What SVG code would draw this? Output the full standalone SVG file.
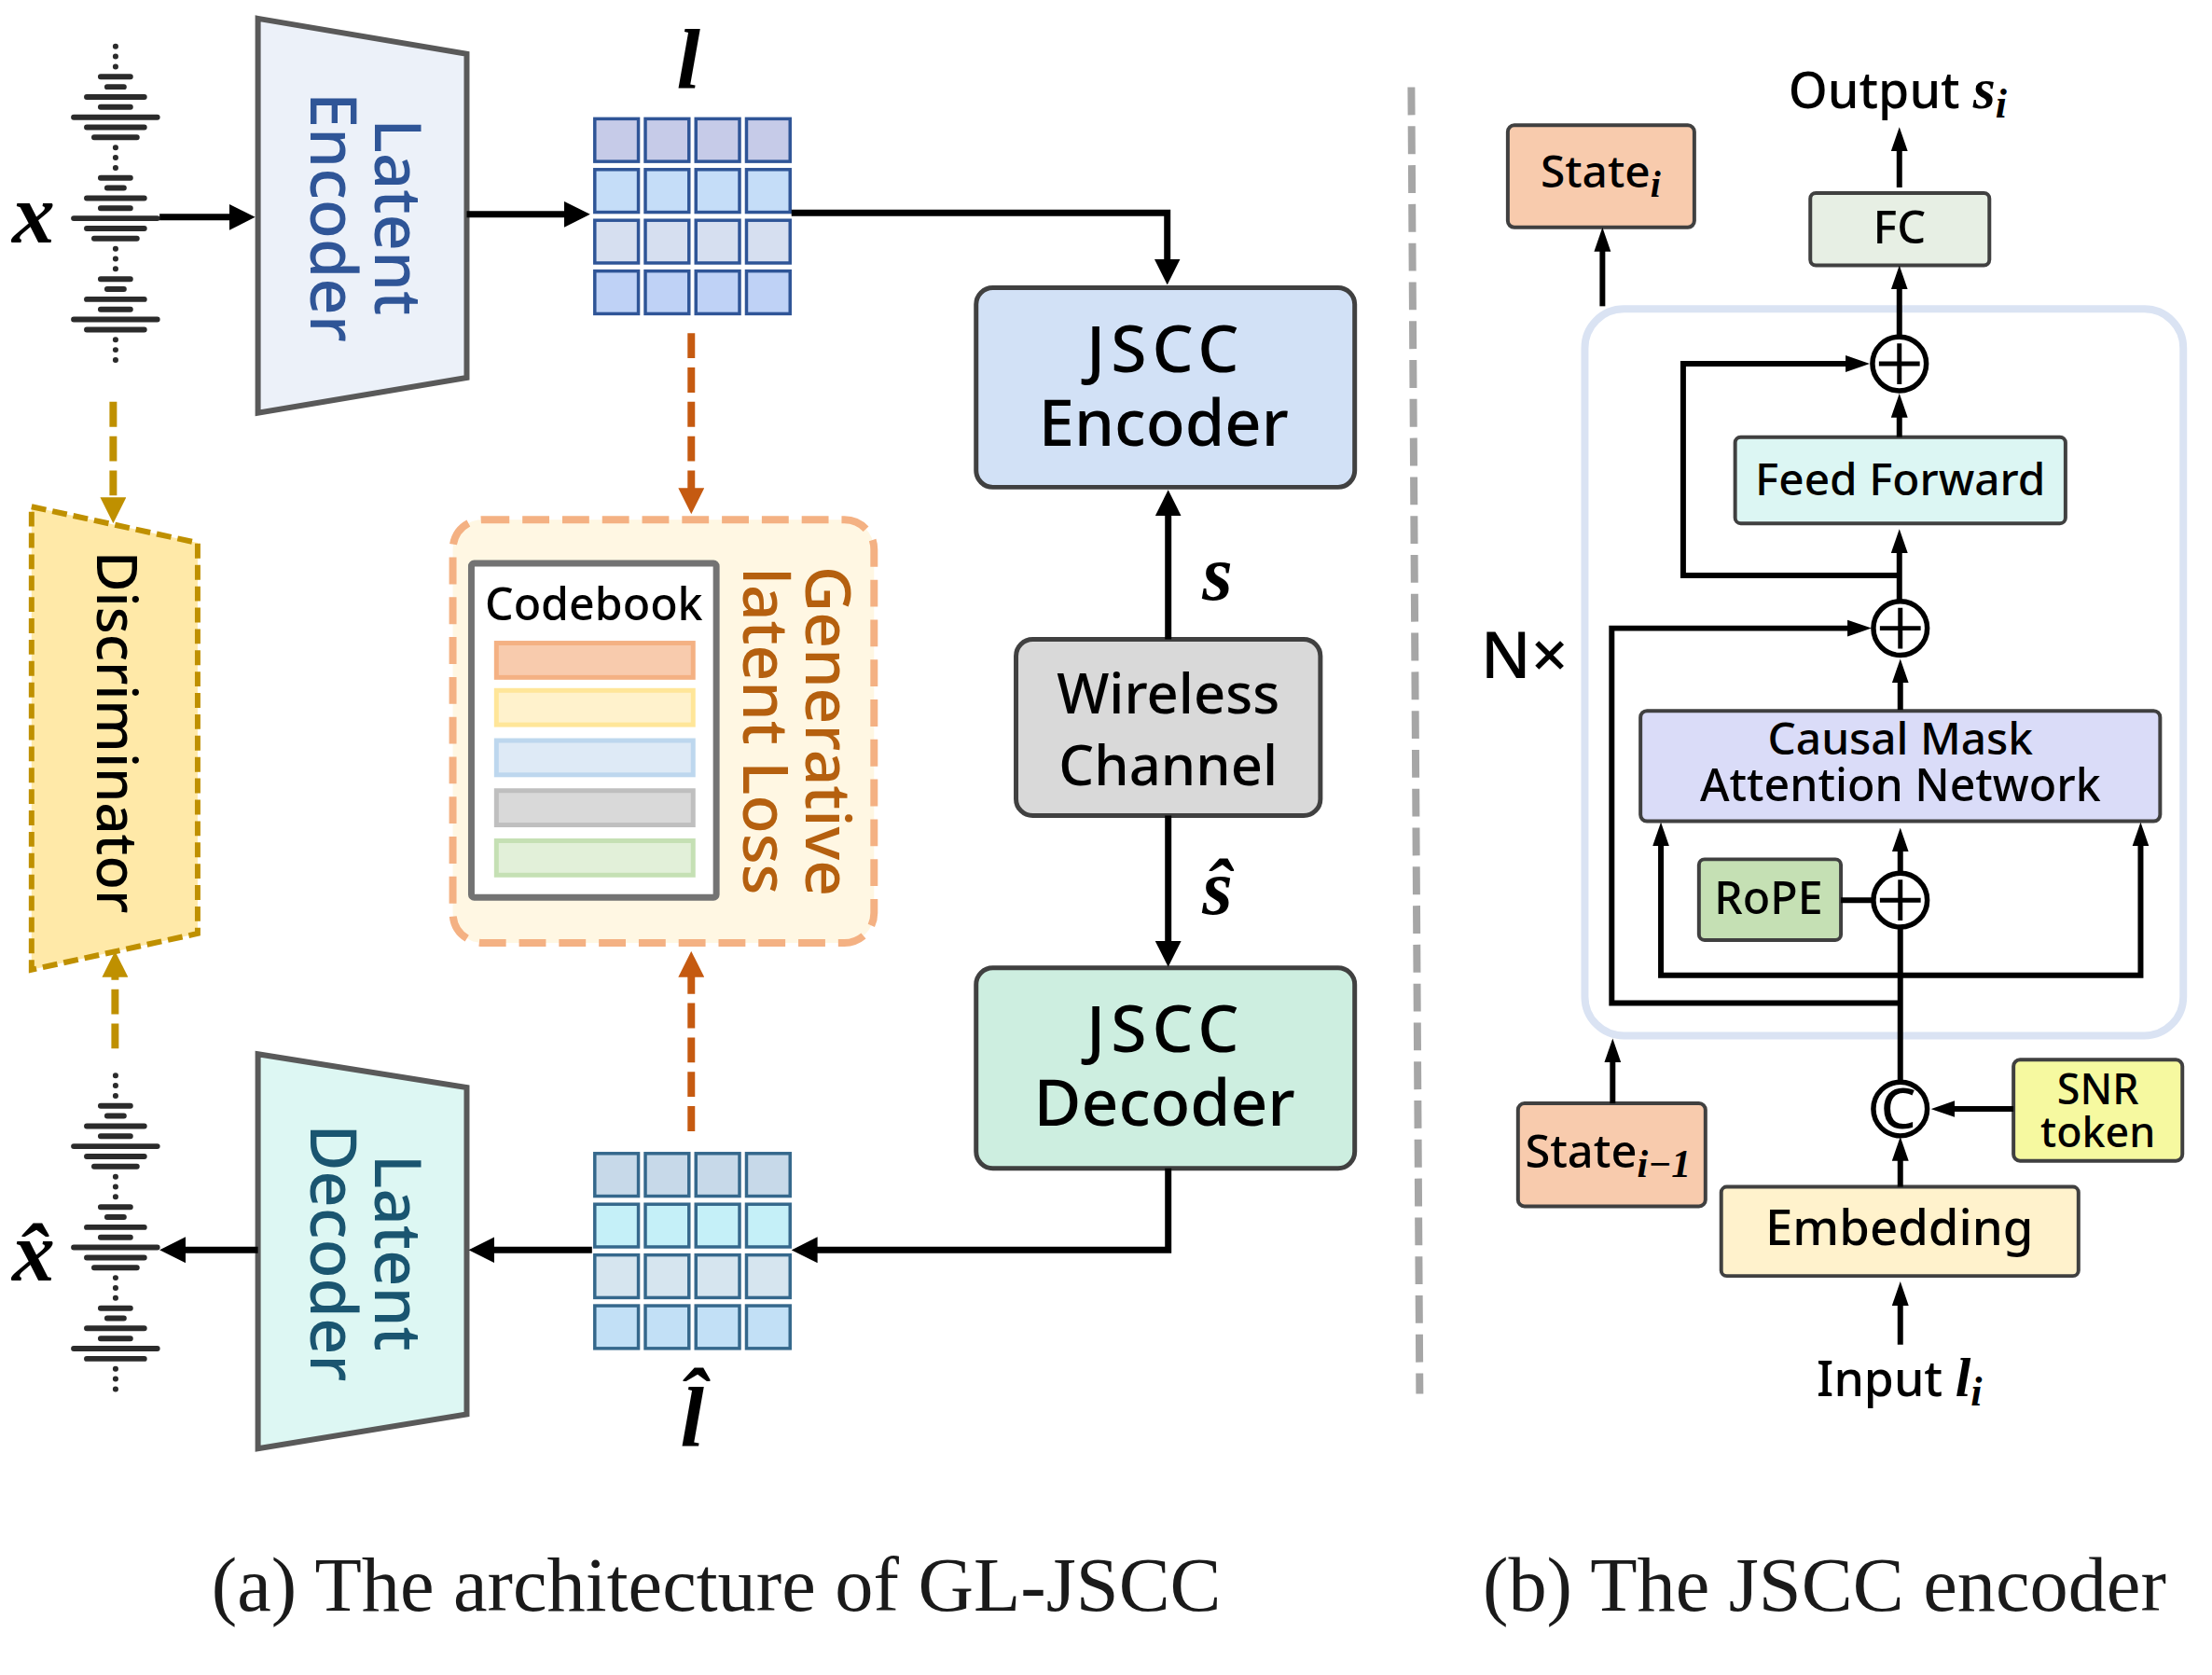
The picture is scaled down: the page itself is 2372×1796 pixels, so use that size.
<svg xmlns="http://www.w3.org/2000/svg" width="2372" height="1796" viewBox="0 0 2372 1796">
<style>
text{font-family:"Noto Sans","Open Sans","DejaVu Sans",sans-serif;fill:#000;text-anchor:middle;font-weight:500}
.math{font-family:"Liberation Serif","DejaVu Serif",serif;font-weight:bold;font-style:italic}
.cap{font-family:"Liberation Serif",serif;font-size:82.800px;text-anchor:start;fill:#1a1a1a;font-weight:400}
.box{stroke:#404040;stroke-width:4}
.big{stroke:#404040;stroke-width:5}
.trap{stroke:#595959;stroke-width:6}
.line{fill:none;stroke:#000;stroke-width:7}
.thin{fill:none;stroke:#000;stroke-width:6}
.bar{fill:none;stroke:#2b2b2b;stroke-width:6;stroke-linecap:round}
.op{fill:#fff;stroke:#000;stroke-width:5.500}
.opl{fill:none;stroke:#000;stroke-width:5}
.cb{stroke-width:5}
</style>
<defs>
<marker id="hb" markerUnits="userSpaceOnUse" markerWidth="28" markerHeight="28" refX="1" refY="14" orient="auto"><path d="M0 0L28 14L0 28z" fill="#000"/></marker>
<marker id="hs" markerUnits="userSpaceOnUse" markerWidth="26" markerHeight="20" refX="1" refY="10" orient="auto"><path d="M0 1L26 10L0 19z" fill="#000"/></marker>
<marker id="ho" markerUnits="userSpaceOnUse" markerWidth="28" markerHeight="28" refX="1" refY="14" orient="auto"><path d="M0 0L28 14L0 28z" fill="#C55A11"/></marker>
<marker id="hg" markerUnits="userSpaceOnUse" markerWidth="28" markerHeight="28" refX="1" refY="14" orient="auto"><path d="M0 0L28 14L0 28z" fill="#BF9000"/></marker>
<g id="wave">
<path class="bar" d="M-16 82.700H16M-9 93.600H9M-31 104.500H31M-16 115.400H16M-45 126.300H45M-31 137.200H31M-23 148.100H23M-16 191.700H16M-9 202.600H9M-31 213.500H31M-16 224.400H16M-45 235.300H45M-31 246.200H31M-23 257.100H23M-16 300.700H16M-9 311.600H9M-31 322.500H31M-16 333.400H16M-45 344.300H45M-31 355.200H31"/>
<path class="bar" d="M0 50h.1M0 60.900h.1M0 71.800h.1M0 159h.1M0 169.900h.1M0 180.800h.1M0 268h.1M0 278.900h.1M0 289.800h.1M0 366.100h.1M0 377h.1M0 387.900h.1"/>
</g>
<g id="row"><rect x="0" width="47" height="46"/><rect x="54.500" width="47" height="46"/><rect x="109" width="47" height="46"/><rect x="163.500" width="47" height="46"/></g>
<g id="plus"><circle class="op" r="29"/><path class="opl" d="M-22 0H22M0 -22V22"/></g>
</defs>
<rect width="2372" height="1796" fill="#fff"/>
<g transform="scale(0.995)">
<g id="wave-x"><use href="#wave" x="124.500" y="0"/><text class="math" x="36" y="261" font-size="92">x</text></g>
<g id="wave-xhat"><use href="#wave" x="124.500" y="1109"/><text class="math" x="36" y="1380" font-size="92">x&#770;</text></g>

<g id="latent-encoder"><polygon class="trap" points="278,20 503,58 503,407 278,445" fill="#ECF1F9"/>
<text transform="translate(404,234) rotate(90)" font-size="69" style="fill:#2F5597">Latent</text><text transform="translate(335,234) rotate(90)" font-size="69" style="fill:#2F5597">Encoder</text></g>

<g id="latent-decoder"><polygon class="trap" points="278,1136 503,1172 503,1524 278,1561" fill="#DDF7F3"/>
<text transform="translate(404,1350) rotate(90)" font-size="69" style="fill:#1A5570">Latent</text><text transform="translate(335,1350) rotate(90)" font-size="69" style="fill:#1A5570">Decoder</text></g>

<g id="latent-l" stroke="#2F5597" stroke-width="3.500"><use href="#row" x="641" y="128" fill="#C6CBE8"/><use href="#row" x="641" y="182.700" fill="#C5DDF8"/><use href="#row" x="641" y="237.400" fill="#D6DFF0"/><use href="#row" x="641" y="292.100" fill="#BFD2F6"/></g>
<text id="label-l" class="math" x="742" y="94" font-size="92">l</text>

<g id="latent-lhat" stroke="#35688C" stroke-width="3.500"><use href="#row" x="641" y="1243" fill="#C7D9E9"/><use href="#row" x="641" y="1297.700" fill="#C5F0F8"/><use href="#row" x="641" y="1352.400" fill="#D6E5EF"/><use href="#row" x="641" y="1407.100" fill="#C2E0F6"/></g>
<text id="label-lhat" class="math" x="746" y="1558" font-size="92">l&#770;</text>

<g id="discriminator"><polygon points="34,546 213,585 213,1006 34,1045" fill="#FFE9A8" stroke="#BF9000" stroke-width="6" stroke-dasharray="16 7"/>
<text transform="translate(105,789) rotate(90)" font-size="60">Discriminator</text></g>

<g id="generative-latent-loss"><rect x="488" y="560" width="454" height="456" rx="32" fill="#FFF7E3" stroke="#F4B183" stroke-width="8" stroke-dasharray="29 14"/>
<text transform="translate(868,788) rotate(90)" font-size="68" style="fill:#B5600F">Generative</text><text transform="translate(801,788) rotate(90)" font-size="68" style="fill:#B5600F">latent Loss</text></g>

<g id="codebook"><rect x="508" y="607" width="264" height="360" rx="3" fill="#fff" stroke="#737373" stroke-width="7"/>
<text x="640" y="668" font-size="48.500">Codebook</text>
<rect class="cb" x="535" y="693" width="212" height="37" fill="#F8CBAD" stroke="#F4B183"/>
<rect class="cb" x="535" y="744" width="212" height="37" fill="#FFF2CC" stroke="#FFE699"/>
<rect class="cb" x="535" y="798" width="212" height="37" fill="#DEEAF6" stroke="#BDD7EE"/>
<rect class="cb" x="535" y="852" width="212" height="37" fill="#D9D9D9" stroke="#BFBFBF"/>
<rect class="cb" x="535" y="906" width="212" height="37" fill="#E2F0D9" stroke="#C5E0B4"/></g>

<g id="jscc-encoder"><rect class="big" x="1052" y="310" width="408" height="215" rx="18" fill="#D2E1F6"/><text x="1256" y="401" font-size="70" letter-spacing="6">JSCC</text><text x="1254" y="480" font-size="69">Encoder</text></g>
<g id="wireless-channel"><rect class="big" x="1095" y="689" width="328" height="190" rx="18" fill="#D9D9D9"/><text x="1259" y="769" font-size="60">Wireless</text><text x="1259" y="846" font-size="60">Channel</text></g>
<g id="jscc-decoder"><rect class="big" x="1052" y="1043" width="408" height="216" rx="18" fill="#CDEEE0"/><text x="1256" y="1134" font-size="70" letter-spacing="6">JSCC</text><text x="1255" y="1213" font-size="70">Decoder</text></g>
<text id="label-s" class="math" x="1312" y="646" font-size="84">s</text>
<text id="label-shat" class="math" x="1312" y="985" font-size="84">&#349;</text>

<path id="divider" d="M1521 94L1530 1502" fill="none" stroke="#A6A6A6" stroke-width="8" stroke-dasharray="30 12"/>

<rect id="n-block" x="1708" y="333" width="645" height="783" rx="42" fill="none" stroke="#DAE3F3" stroke-width="8"/>
<text id="label-n" x="1643" y="731" font-size="70" font-weight="400">N×</text>

<g id="state-i"><rect class="box" x="1625" y="135" width="201" height="110" rx="7" fill="#F8CBAD"/><text x="1725" y="202" font-size="48">State<tspan class="math" font-size="40" dy="10">i</tspan></text></g>
<g id="fc"><rect class="box" x="1951" y="208" width="193" height="78" rx="6" fill="#E7EFE4"/><text x="2047" y="262" font-size="49">FC</text></g>
<text id="label-output" x="2045" y="117" font-size="54">Output <tspan class="math" font-size="62">s</tspan><tspan class="math" font-size="44" dy="10">i</tspan></text>
<g id="feed-forward"><rect class="box" x="1870" y="471" width="356" height="93" rx="6" fill="#DCF6F3"/><text x="2048" y="534" font-size="48">Feed Forward</text></g>
<g id="causal-mask"><rect class="box" x="1768" y="766" width="560" height="119" rx="7" fill="#DADCF8"/><text x="2048" y="813" font-size="48">Causal Mask</text><text x="2048" y="863" font-size="48.500">Attention Network</text></g>
<g id="rope"><rect class="box" x="1831" y="926" width="153" height="87" rx="6" fill="#C5E0B4"/><text x="1906" y="985" font-size="48.500">RoPE</text></g>
<g id="state-i-1"><rect class="box" x="1636" y="1189" width="202" height="111" rx="7" fill="#F8CBAD"/><text x="1733" y="1258" font-size="49">State<tspan class="math" font-size="42" dy="10">i−1</tspan></text></g>
<g id="snr-token"><rect class="box" x="2170" y="1142" width="182" height="109" rx="7" fill="#F6F9A0"/><text x="2261" y="1190" font-size="45">SNR</text><text x="2261" y="1236" font-size="45">token</text></g>
<g id="embedding"><rect class="box" x="1855" y="1279" width="385" height="96" rx="6" fill="#FFF2CC"/><text x="2047" y="1342" font-size="53">Embedding</text></g>
<text id="label-input" x="2047" y="1505" font-size="52">Input <tspan class="math" font-size="60">l</tspan><tspan class="math" font-size="44" dy="10">i</tspan></text>

<g id="connectors">
<path class="line" marker-end="url(#hb)" d="M172 234H248"/>
<path class="line" marker-end="url(#hb)" d="M503 231H609"/>
<path class="line" marker-end="url(#hb)" d="M853 229.500H1258V280"/>
<path class="line" marker-end="url(#hb)" d="M1259 689V555"/>
<path class="line" marker-end="url(#hb)" d="M1259 879V1015"/>
<path class="line" marker-end="url(#hb)" d="M1259 1259V1347H880"/>
<path class="line" marker-end="url(#hb)" d="M638 1347H532"/>
<path class="line" marker-end="url(#hb)" d="M278 1347H199"/>
<path fill="none" stroke="#C55A11" stroke-width="8" stroke-dasharray="27 10" marker-end="url(#ho)" d="M745 359V527"/>
<path fill="none" stroke="#C55A11" stroke-width="8" stroke-dasharray="27 10" marker-end="url(#ho)" d="M745 1219V1052"/>
<path fill="none" stroke="#BF9000" stroke-width="8" stroke-dasharray="27 10" marker-end="url(#hg)" d="M122 433V537"/>
<path fill="none" stroke="#BF9000" stroke-width="8" stroke-dasharray="27 10" marker-end="url(#hg)" d="M124 1130V1052"/>
<path class="thin" marker-end="url(#hs)" d="M2047 202V162"/>
<path class="thin" marker-end="url(#hs)" d="M1727 330V270"/>
<path class="thin" marker-end="url(#hs)" d="M2047 362V311"/>
<path class="thin" marker-end="url(#hs)" d="M2047 471V449"/>
<path class="thin" marker-end="url(#hs)" d="M2047 647V595"/>
<path class="thin" marker-end="url(#hs)" d="M2047 620H1814V392H1990"/>
<path class="thin" stroke-width="5" marker-end="url(#hs)" d="M2048 1081H1737V677H1992"/>
<path class="thin" marker-end="url(#hs)" d="M2048 765V735"/>
<path class="thin" marker-end="url(#hs)" d="M2048 940V917"/>
<path class="thin" d="M2048 1000V1170"/>
<path class="thin" marker-end="url(#hs)" d="M2048 1051H1790V911"/>
<path class="thin" marker-end="url(#hs)" d="M2048 1051H2307V911"/>
<path class="thin" stroke-width="5" d="M1984 970H2019"/>
<path class="thin" marker-end="url(#hs)" d="M1738 1189V1144"/>
<path class="thin" marker-end="url(#hs)" d="M2170 1195H2106"/>
<path class="thin" marker-end="url(#hs)" d="M2048 1279V1250"/>
<path class="thin" marker-end="url(#hs)" d="M2048 1449V1406"/>
</g>

<use id="add-top" href="#plus" x="2047" y="392"/>
<use id="add-mid" href="#plus" x="2048" y="677"/>
<use id="add-rope" href="#plus" x="2048" y="970"/>
<g id="concat"><circle class="op" cx="2048" cy="1195" r="29"/><text x="2046" y="1216" font-size="60">C</text></g>

<text id="caption-a" class="cap" x="228" y="1736">(a) The architecture of GL-JSCC</text>
<text id="caption-b" class="cap" x="1598" y="1736">(b) The JSCC encoder</text>
</g>
</svg>
